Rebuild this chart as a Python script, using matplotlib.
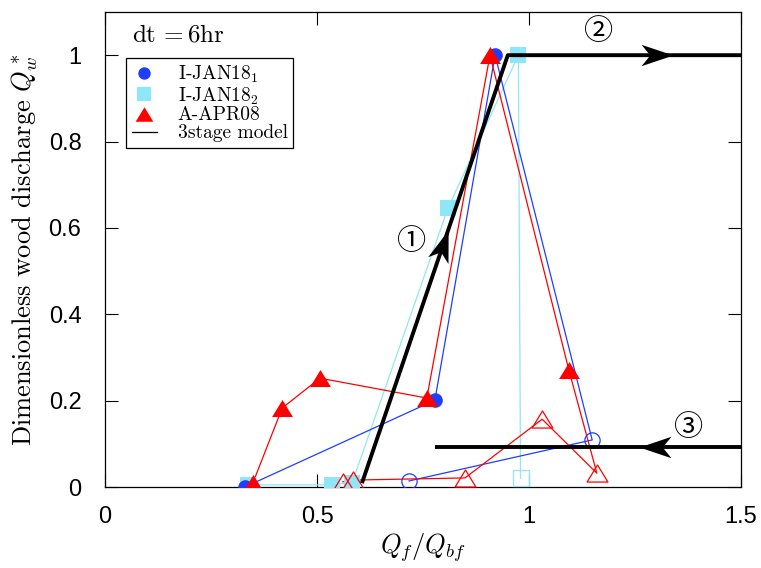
import numpy as np
import matplotlib
matplotlib.use('Agg')
import matplotlib.pyplot as plt
from matplotlib.path import Path
from matplotlib.markers import MarkerStyle
from matplotlib.transforms import Affine2D
from matplotlib.lines import Line2D

plt.rcParams['mathtext.fontset'] = 'cm'

# I-JAN18_1 (first three filled = rising limb, rest open = falling limb)
jan1_x = [0.33, 0.778, 0.92, 1.149, 0.717]
jan1_y = [0.0, 0.201, 1.0, 0.109, 0.014]
jan1_nfill = 3

# I-JAN18_2
jan2_x = [0.337, 0.535, 0.583, 0.809, 0.975, 0.98]
jan2_y = [0.005, 0.005, 0.01, 0.646, 1.0, 0.02]
jan2_nfill = 5

# A-APR08
apr_x = [0.349, 0.418, 0.507, 0.759, 0.908, 1.094, 1.160, 1.031, 0.849, 0.585, 0.561]
apr_y = [0.01, 0.183, 0.252, 0.206, 1.0, 0.271, 0.032, 0.157, 0.021, 0.016, 0.012]
apr_nfill = 6

# 3 stage model
stage1_x = [0.606, 0.95, 1.5]
stage1_y = [0.009, 1.0, 1.0]
stage3_x = [0.778, 1.5]
stage3_y = [0.093, 0.093]

# arrow heads (centre) and circled stage numbers
arrow_x = [0.797, 1.302, 1.297]
arrow_y = [0.560, 1.0, 0.093]
arrow_from = [(0.606, 0.009), (0.95, 1.0), (1.5, 0.093)]
stage_lbl = ['①', '②', '③']
stage_lx = [0.724, 1.165, 1.377]
stage_ly = [0.567, 1.053, 0.137]

xticks = [0, 0.5, 1, 1.5]
xticklabels = ['0', '0.5', '1', '1.5']
yticks = [0, 0.2, 0.4, 0.6, 0.8, 1.0]
yticklabels = ['0', '0.2', '0.4', '0.6', '0.8', '1']

c_blue = '#1f3dff'
c_cyan = '#8fe6f7'
c_red = '#ff0000'

fig = plt.figure(figsize=(7.61, 5.68), dpi=100)
ax = fig.add_axes([105/761, 1-487/568, 636/761, 475/568])
ax.set_xlim(0, 1.5)
ax.set_ylim(0, 1.1)

tri = Path([(-1, -0.82), (1, -0.82), (0, 0.82), (-1, -0.82)],
           [Path.MOVETO, Path.LINETO, Path.LINETO, Path.CLOSEPOLY])

# cyan
ax.plot(jan2_x, jan2_y, '-', color=c_cyan, lw=0.9, zorder=2)
h2, = ax.plot(jan2_x[:jan2_nfill], jan2_y[:jan2_nfill], 's', color=c_cyan,
              ms=11.5, mew=0, zorder=3, ls='none')
ax.plot(jan2_x[jan2_nfill:], jan2_y[jan2_nfill:], 's', mfc='none', mec=c_cyan,
        ms=11.5, mew=0.9, zorder=3, ls='none')
# blue
ax.plot(jan1_x, jan1_y, '-', color=c_blue, lw=0.9, zorder=2)
h1, = ax.plot(jan1_x[:jan1_nfill], jan1_y[:jan1_nfill], 'o', color=c_blue,
              ms=10.5, mew=0, zorder=3, ls='none')
ax.plot(jan1_x[jan1_nfill:], jan1_y[jan1_nfill:], 'o', mfc='none', mec=c_blue,
        ms=11, mew=0.9, zorder=3, ls='none')
# red
ax.plot(apr_x, apr_y, '-', color=c_red, lw=0.9, zorder=2)
h3, = ax.plot(apr_x[:apr_nfill], apr_y[:apr_nfill], marker=tri, color=c_red,
              ms=15, mew=0, zorder=3, ls='none')
ax.plot(apr_x[apr_nfill:], apr_y[apr_nfill:], marker=tri, mfc='none', mec=c_red,
        ms=15, mew=0.9, zorder=3, ls='none')

# model
ax.plot(stage1_x, stage1_y, '-', color='k', lw=2.8, zorder=5, solid_capstyle='butt')
ax.plot(stage3_x, stage3_y, '-', color='k', lw=2.8, zorder=5, solid_capstyle='butt')

head = Path([(1, 0), (-1, 0.67), (-0.45, 0), (-1, -0.67), (1, 0)],
            [Path.MOVETO, Path.LINETO, Path.LINETO, Path.LINETO, Path.CLOSEPOLY])
for xa, ya, (x0, y0) in zip(arrow_x, arrow_y, arrow_from):
    p1 = ax.transData.transform((x0, y0))
    p2 = ax.transData.transform((xa, ya))
    ang = np.degrees(np.arctan2(p2[1]-p1[1], p2[0]-p1[0]))
    m = MarkerStyle(head, transform=Affine2D().rotate_deg(ang))
    ax.plot([xa], [ya], marker=m, color='k', ms=23, mew=0, ls='none', zorder=6)

for s, xs, ys in zip(stage_lbl, stage_lx, stage_ly):
    ax.text(xs, ys, s, fontsize=21, ha='center', va='center',
            family=['Noto Sans CJK JP', 'DejaVu Sans'])

ax.text(0.042, 0.977, r'$\mathrm{dt}\,=6\mathrm{hr}$', transform=ax.transAxes,
        fontsize=18, va='top', ha='left')

h4 = Line2D([], [], color='k', lw=0.9)
leg = ax.legend([h1, h2, h3, h4],
                ['I-JAN18$_1$', 'I-JAN18$_2$', 'A-APR08', '3stage model'],
                loc='upper left', bbox_to_anchor=(0.033, 0.903), borderaxespad=0,
                prop={'family': 'cmr10', 'size': 14}, frameon=True, fancybox=False,
                edgecolor='k', framealpha=1, markerscale=0.85, handlelength=1.3,
                handletextpad=1.05, labelspacing=0.0, borderpad=0.3)
leg.get_frame().set_linewidth(0.9)

ax.set_xticks(xticks)
ax.set_xticklabels(xticklabels, family='Liberation Sans', fontsize=17)
ax.set_yticks(yticks)
ax.set_yticklabels(yticklabels, family='Liberation Sans', fontsize=17)
ax.tick_params(direction='in', length=9.5, width=0.8, top=True, right=True, pad=14)
ax.tick_params(axis='y', pad=17)
for sp in ax.spines.values():
    sp.set_linewidth(0.9)

ax.set_xlabel(r'$Q_f/Q_{bf}$', fontsize=19, labelpad=2)
ax.set_ylabel(r'Dimensionless wood discharge $Q_w^*$', family='cmr10', fontsize=19, labelpad=6)

fig.savefig('out.png', dpi=100)
